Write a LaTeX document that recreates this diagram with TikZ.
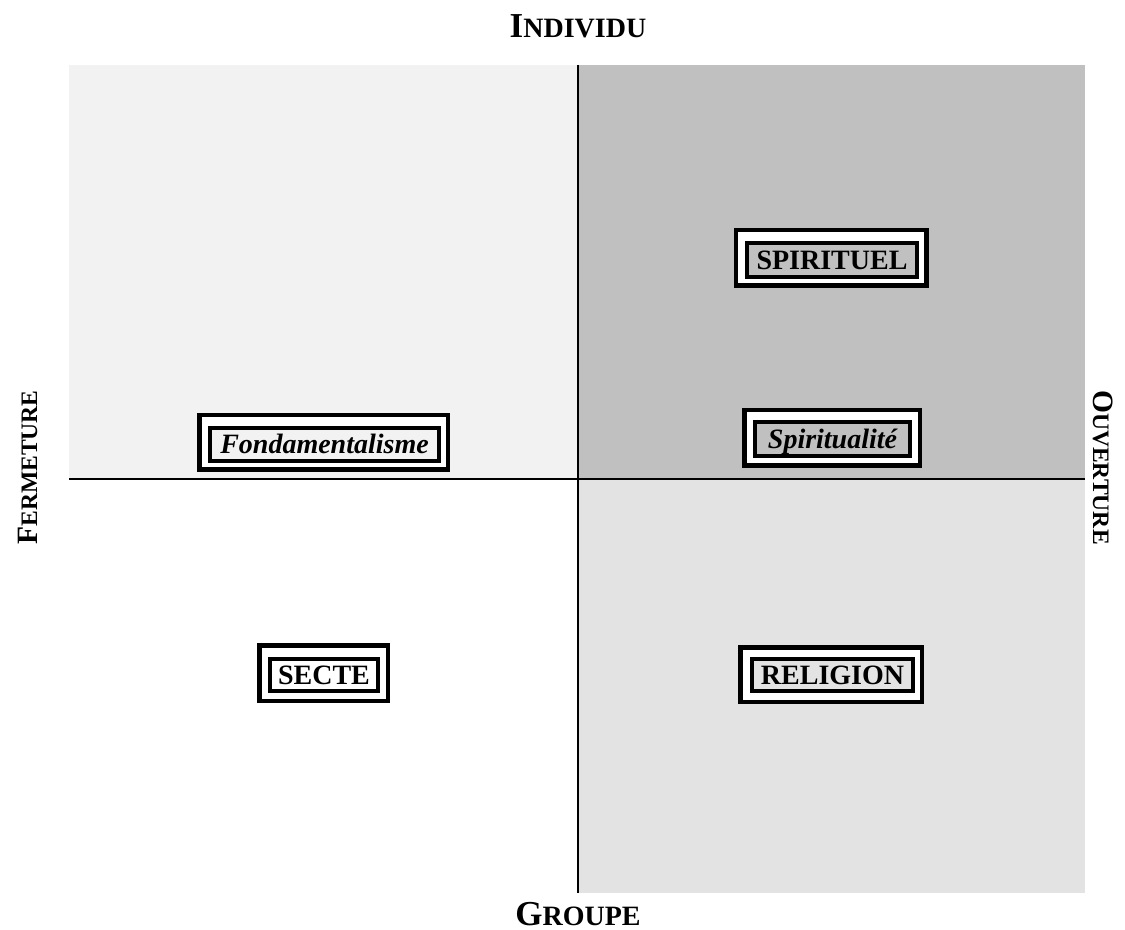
\documentclass[tikz,border=0pt]{standalone}
\usepackage{fontspec}
\setmainfont{Liberation Serif}
\definecolor{qtl}{HTML}{F2F2F2}
\definecolor{qtr}{HTML}{C0C0C0}
\definecolor{qbr}{HTML}{E3E3E3}
\newcommand\fakesc[4]{{\fontsize{#3}{#3}\selectfont #1}{\fontsize{#4}{#4}\selectfont #2}}
\tikzset{
  outerbox/.style={draw=black, line width=2.25pt, fill=white, inner sep=0pt},
  innerbox/.style={draw=black, line width=2pt, inner sep=0pt, text height=9.4pt, text depth=0pt,
    font=\fontsize{14}{16}\selectfont\bfseries},
  axisline/.style={line width=1pt},
  axislabel/.style={anchor=base, inner sep=0pt, font=\bfseries},
}
\begin{document}
\begin{tikzpicture}[x=0.5pt,y=-0.5pt]
\useasboundingbox (0,0) rectangle (1125,930);
\fill[white] (0,0) rectangle (1125,930);
% quadrants
\fill[qtl] (69,65) rectangle (578,479);
\fill[qtr] (578,65) rectangle (1085,479);
\fill[qbr] (578,479) rectangle (1085,893);
% axes
\coordinate (top) at (578,65);
\coordinate (bottom) at (578,893);
\coordinate (left) at (69,479);
\coordinate (right) at (1085,479);
\draw[axisline] (top) -- (bottom);
\draw[axisline] (left) -- (right);
% axis labels
\node[axislabel] (individu) at (578,38) {\fakesc{I}{NDIVIDU}{17.5}{14}};
\node[axislabel] (groupe) at (578,925) {\fakesc{G}{ROUPE}{17.5}{14}};
\node[axislabel, rotate=90] (fermeture) at (37,467.5) {\fakesc{F}{ERMETURE}{14.75}{11.8}};
\node[axislabel, rotate=-90] (ouverture) at (1093,467.5) {\fakesc{O}{UVERTURE}{14.75}{11.8}};
% SPIRITUEL
\node[outerbox, minimum width=95.25pt, minimum height=27.75pt] (spo) at (831,258) {};
\node[innerbox, fill=qtr, minimum width=85pt, minimum height=17pt] (spi) at (832,260) {SPIRITUEL};
% Spiritualite
\node[outerbox, minimum width=87.75pt, minimum height=27.75pt] (sto) at (832,438) {};
\node[innerbox, fill=qtr, minimum width=77.5pt, minimum height=17pt] (sti) at (832.5,439) {\itshape Spiritualité};
% Fondamentalisme
\node[outerbox, minimum width=124.25pt, minimum height=27.25pt] (fdo) at (323.5,442.5) {};
\node[innerbox, fill=qtl, minimum width=114.5pt, minimum height=16.5pt] (fdi) at (324.5,444.5) {\itshape Fondamentalisme};
% SECTE
\node[outerbox, minimum width=64.25pt, minimum height=27.75pt] (sco) at (323.5,673) {};
\node[innerbox, fill=white, minimum width=54pt, minimum height=16pt] (sci) at (324,675) {SECTE};
% RELIGION
\node[outerbox, minimum width=90.75pt, minimum height=27.25pt] (rlo) at (831,674.5) {};
\node[innerbox, fill=qbr, minimum width=80.5pt, minimum height=16pt] (rli) at (832.5,675) {RELIGION};
\end{tikzpicture}
\end{document}
